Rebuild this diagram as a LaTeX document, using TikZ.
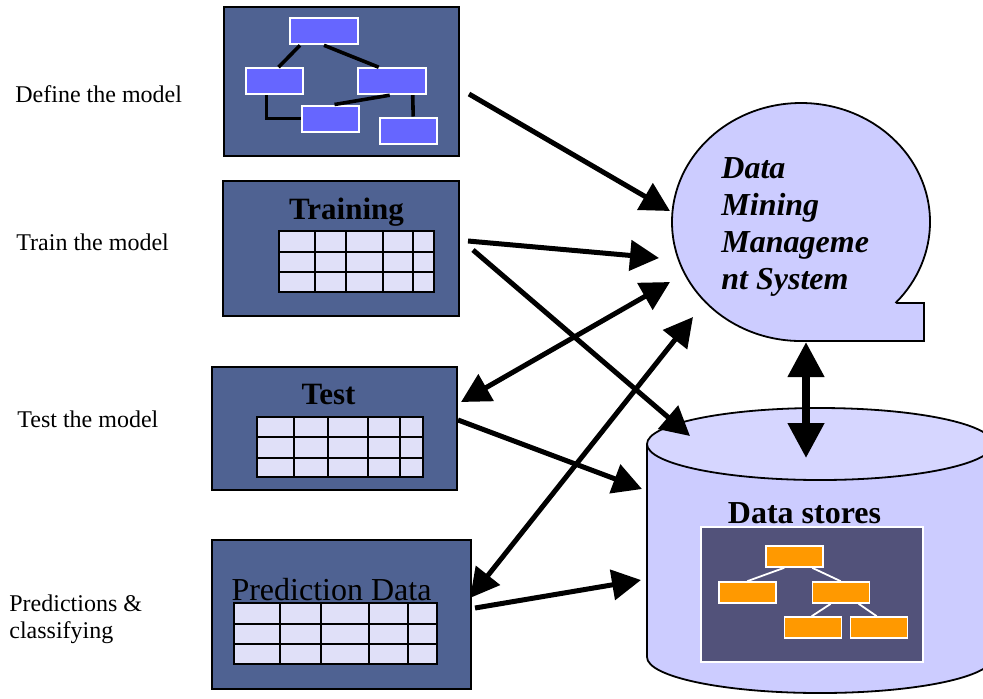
\documentclass[tikz,border=0pt]{standalone}
\usepackage{fontspec}
\setmainfont{Liberation Serif}
\usetikzlibrary{arrows.meta,calc}

\definecolor{panelblue}{RGB}{79,98,146}
\definecolor{flowblue}{RGB}{102,102,255}
\definecolor{cellfill}{RGB}{224,224,248}
\definecolor{bubblefill}{RGB}{204,204,255}
\definecolor{disktop}{RGB}{214,214,255}
\definecolor{treebg}{RGB}{82,82,122}
\definecolor{leaforange}{RGB}{255,153,0}

% table of cells: x0, x1, y0, y1, inner columns, inner rows
\newcommand{\celltable}[6]{%
  \draw[line width=0.9pt,fill=cellfill] (#1,#3) rectangle (#2,#4);
  \foreach \gx in {#5} \draw[line width=0.9pt] (\gx,#3) -- (\gx,#4);
  \foreach \gy in {#6} \draw[line width=0.9pt] (#1,\gy) -- (#2,\gy);
}

\begin{document}
\begin{tikzpicture}[x=0.5pt,y=-0.5pt,
    panel/.style={draw=black,line width=0.8pt,fill=panelblue,inner sep=0pt},
    flowbox/.style={draw=white,line width=1pt,fill=flowblue,minimum width=34pt,minimum height=13pt,inner sep=0pt},
    smallbox/.style={flowbox,minimum width=28.5pt},
    leafbox/.style={draw=white,line width=0.8pt,fill=leaforange,minimum width=28.5pt,minimum height=10.5pt,inner sep=0pt},
    stagelabel/.style={anchor=base west,font=\fontsize{12}{13.5}\selectfont,inner sep=0pt},
    title/.style={anchor=base,font=\fontsize{15.5}{18}\selectfont\bfseries,inner sep=0pt},
    bigarrow/.style={line width=2.5pt,-{Triangle[length=14.5pt,width=15pt]}},
    twoway/.style={line width=2.5pt,{Triangle[length=14.5pt,width=15pt]}-{Triangle[length=14.5pt,width=15pt]}}]
  \useasboundingbox (0,0) rectangle (983,698);

  % stage labels
  \node[stagelabel] (lbldefine) at (15,102) {Define the model};
  \node[stagelabel] (lbltrain) at (16,250) {Train the model};
  \node[stagelabel] (lbltest) at (17,427) {Test the model};
  \node[stagelabel,align=left] (lblpredict) at (9,638) {Predictions \&\\classifying};

  % panels
  \node[panel,minimum width=117.5pt,minimum height=74.5pt] (define) at (341.5,81.5) {};
  \node[panel,minimum width=118pt,minimum height=67.5pt] (train) at (341,248.5) {};
  \node[panel,minimum width=122.5pt,minimum height=61.5pt] (test) at (334.5,428.5) {};
  \node[panel,minimum width=129.5pt,minimum height=74.5pt] (predict) at (341.75,614.5) {};

  % model graph
  \node[flowbox] (fa) at (324,31.3) {};
  \node[smallbox] (fb) at (274,81.2) {};
  \node[flowbox] (fc) at (391.7,81.2) {};
  \node[smallbox] (fd) at (330,118.5) {};
  \node[smallbox] (fe) at (408.7,130.5) {};
  \draw[line width=1.8pt] ($(fa.south west)+(11,0)$) -- ($(fb.north west)+(34,0)$);
  \draw[line width=1.8pt] ($(fa.south west)+(35,0)$) -- ($(fc.north west)+(22,0)$);
  \draw[line width=1.8pt] ($(fb.south west)+(22,0)$) |- (fd.west);
  \draw[line width=1.8pt] ($(fc.south west)+(33,0)$) -- ($(fd.north west)+(34,0)$);
  \draw[line width=1.8pt] ($(fc.south west)+(56,0)$) -- ($(fe.north west)+(34,0)$);

  % data panels
  \node[title] (traintitle) at (346.5,219) {Training};
  \celltable{279}{434}{231}{292}{315,346,383,413}{252,272}
  \node[title] (testtitle) at (328.5,404) {Test};
  \celltable{257}{423}{417}{477}{294,328,368,400}{437,458}
  \node[title,font=\fontsize{16}{19}\selectfont] (predtitle) at (331.5,600) {Prediction Data};
  \celltable{234}{437}{603}{664}{280,321,369,408}{624,644}

  % management system
  \draw[line width=0.9pt,fill=bubblefill] (897,303) -- (924,303) -- (924,341) -- (801,341)
    arc[start angle=90,end angle=402.5,x radius=129,y radius=119] -- cycle;
  \node[anchor=base west,align=left,inner sep=0pt,font=\fontsize{16}{18.4}\selectfont\bfseries\itshape] (dmms) at (721,289) {Data\\Mining\\Manageme\\nt System};

  % data stores
  \draw[line width=0.9pt,fill=bubblefill] (647,444) -- (647,657)
    arc[start angle=180,end angle=0,x radius=173,y radius=36] -- (993,444);
  \draw[line width=0.9pt,fill=disktop] (820,444) ellipse[x radius=173,y radius=36];
  \node[title,font=\fontsize{16}{19}\selectfont\bfseries] (storetitle) at (804.5,523) {Data stores};
  \node[draw=white,line width=0.9pt,fill=treebg,inner sep=0pt,minimum width=111pt,minimum height=67.5pt] (tree) at (812,594.5) {};
  \foreach \n/\x/\y in {ta/794.5/556.5,tb/747.5/592.5,tc/841/592.5,td/813/627.5,te/879/627.5}
    \node[leafbox] (\n) at (\x,\y) {};
  \draw[white,line width=0.9pt] ($(ta.south west)+(19,0)$) -- ($(tb.north west)+(29,0)$);
  \draw[white,line width=0.9pt] ($(ta.south west)+(47,0)$) -- ($(tc.north west)+(29,0)$);
  \draw[white,line width=0.9pt] ($(tc.south west)+(19,0)$) -- ($(td.north west)+(28,0)$);
  \draw[white,line width=0.9pt] ($(tc.south west)+(47,0)$) -- ($(te.north west)+(27,0)$);

  % arrow ends
  \coordinate (defineout) at (469,94);
  \coordinate (trainout) at (468,241);
  \coordinate (trainstore) at (473,250);
  \coordinate (testend) at (461,402);
  \coordinate (testout) at (458,420);
  \coordinate (predictend) at (470,598);
  \coordinate (predictout) at (475,608);
  \coordinate (dmmsdefine) at (670,211);
  \coordinate (dmmstrain) at (659,258);
  \coordinate (dmmstest) at (670,282);
  \coordinate (dmmspredict) at (693,317);
  \coordinate (dmmsbottom) at (806,342);
  \coordinate (storetop) at (806,458);
  \coordinate (storetrain) at (690,436);
  \coordinate (storetest) at (642,489);
  \coordinate (storepredict) at (641,580);

  % arrows
  \draw[bigarrow] (defineout) -- (dmmsdefine);
  \draw[bigarrow] (trainout) -- (dmmstrain);
  \draw[bigarrow] (trainstore) -- (storetrain);
  \draw[twoway] (testend) -- (dmmstest);
  \draw[twoway] (predictend) -- (dmmspredict);
  \draw[bigarrow] (testout) -- (storetest);
  \draw[bigarrow] (predictout) -- (storepredict);
  \draw[line width=3.8pt,{Triangle[length=17.5pt,width=17.5pt]}-{Triangle[length=17.5pt,width=17.5pt]}] (dmmsbottom) -- (storetop);
\end{tikzpicture}
\end{document}
